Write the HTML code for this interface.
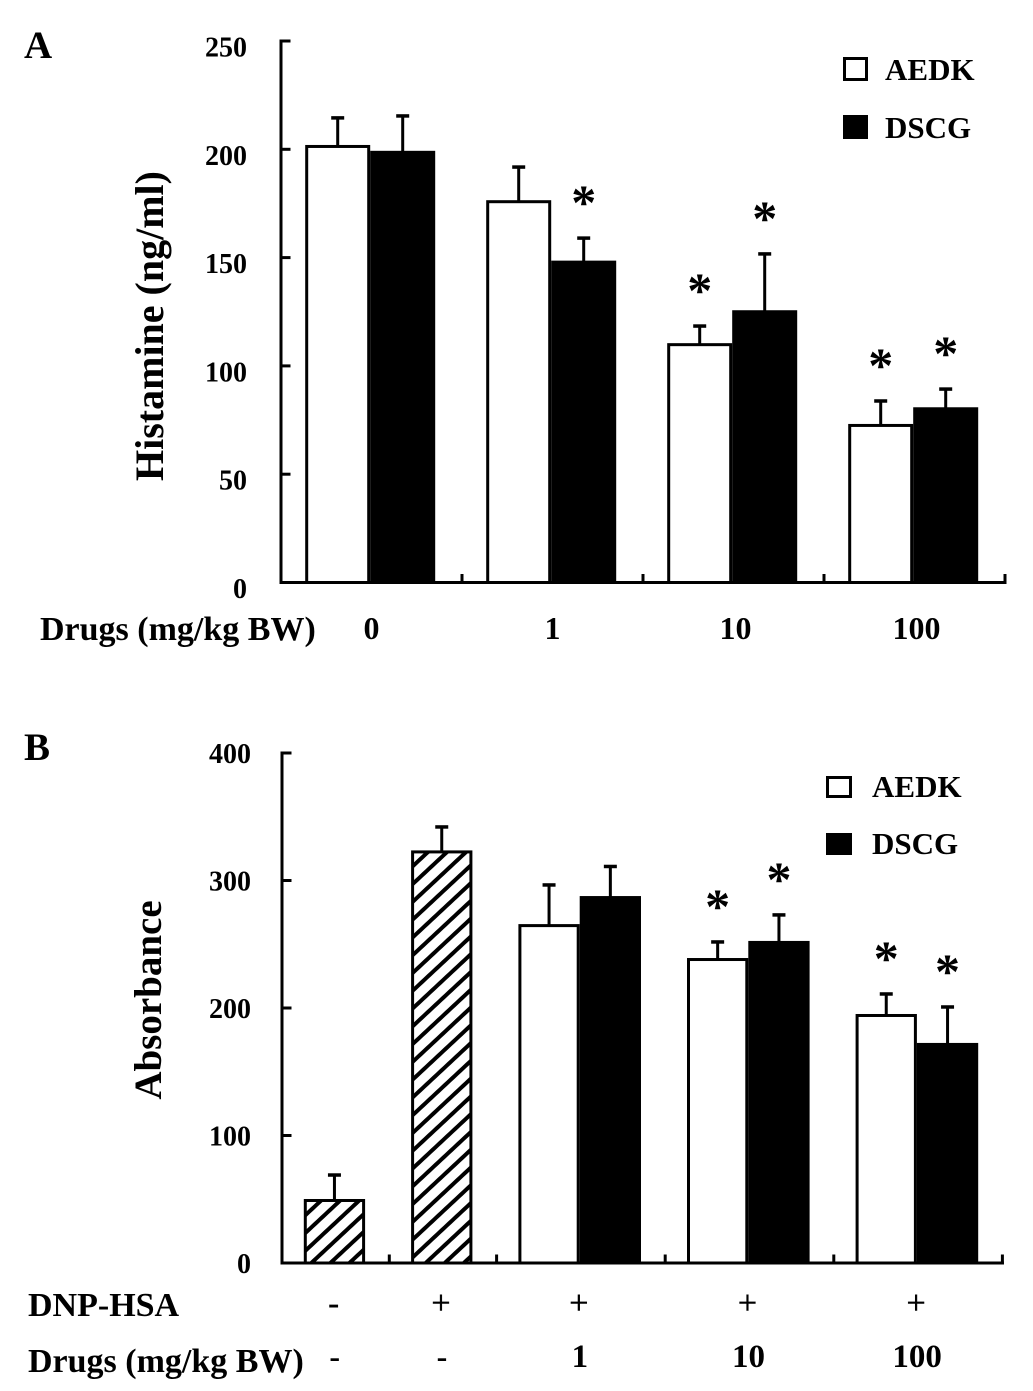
<!DOCTYPE html>
<html lang="en">
<head>
<meta charset="utf-8">
<title>Histamine and absorbance bar charts</title>
<style>
html,body{margin:0;padding:0;background:#fff;}
svg{display:block;}
text{font-family:"Liberation Serif",serif;font-weight:bold;fill:#000;}
</style>
</head>
<body>
<svg id="figure" xmlns="http://www.w3.org/2000/svg" width="1033" height="1391" viewBox="0 0 1033 1391">
  <defs>
    <pattern id="hatch" patternUnits="userSpaceOnUse" width="13" height="13" patternTransform="rotate(-43) translate(0 3)">
      <rect width="13" height="13" fill="#fff"/>
      <rect width="13" height="4" fill="#000"/>
    </pattern>
  </defs>
  <rect width="1033" height="1391" fill="#fff"/>
  <g id="panelA"></g>
  <g id="panelB"></g>
</svg>
<script>
// Panel A data
const aCategories = ['0', '1', '10', '100'];
const aAedk = [202, 176.5, 110.5, 73.2];
const aAedkErr = [12.5, 15.3, 7.9, 10.6];
const aAedkSig = [0, 0, 1, 1];
const aDscg = [199.3, 148.6, 125.7, 80.9];
const aDscgErr = [16.1, 10.4, 26, 8.4];
const aDscgSig = [0, 1, 1, 1];
const aTicks = [0, 50, 100, 150, 200, 250];

// Panel B data
const bDnp = ['-', '+', '+', '+', '+'];
const bDrugs = ['-', '-', '1', '10', '100'];
const bControl = [50.2, 323.6];
const bControlErr = [18.8, 18.4];
const bAedk = [265.8, 239.2, 195.3];
const bAedkErr = [30.7, 12.6, 15.7];
const bAedkSig = [0, 1, 1];
const bDscg = [287.8, 252.6, 172.6];
const bDscgErr = [23.2, 20.4, 28.2];
const bDscgSig = [0, 1, 1];
const bTicks = [0, 100, 200, 300, 400];

const NS = 'http://www.w3.org/2000/svg';
function make(parent, tag, props, content) {
  const el = document.createElementNS(NS, tag);
  for (const k in props) el.setAttribute(k, props[k]);
  if (content !== undefined) el.textContent = content;
  parent.appendChild(el);
  return el;
}

function drawBar(g, x, w, yTop, yBase, fill, name) {
  const el = make(g, 'rect', {x: x + 1.5, y: yTop + 1.5, width: w - 3, height: yBase - yTop - 1.5, fill: fill, stroke: '#000', 'stroke-width': 3});
  
  
}

function drawError(g, cx, yTop, yBar, name) {
  const stem = make(g, 'line', {x1: cx, x2: cx, y1: yTop, y2: yBar, stroke: '#000', 'stroke-width': 3});
  
  
  const cap = make(g, 'line', {x1: cx - 6.5, x2: cx + 6.5, y1: yTop, y2: yTop, stroke: '#000', 'stroke-width': 3.5});
  
  
}

function drawStar(g, cx, yErrTop, name) {
  const el = make(g, 'text', {x: cx, y: yErrTop - 19, 'text-anchor': 'middle', 'font-size': 50}, '*');
  
  
}

function drawLabel(g, x, y, size, anchor, str, name) {
  const el = make(g, 'text', {x: x, y: y, 'font-size': size, 'text-anchor': anchor}, str);
  
  
  return el;
}

function drawLine(g, x1, y1, x2, y2, name) {
  const el = make(g, 'line', {x1: x1, y1: y1, x2: x2, y2: y2, stroke: '#000', 'stroke-width': 3, 'stroke-linecap': 'square'});
  
  
}

function drawLegend(g, x, y1, y2, w, h, textX) {
  const box1 = make(g, 'rect', {x: x + 1.5, y: y1 + 1.5, width: w - 3, height: h - 3, fill: '#fff', stroke: '#000', 'stroke-width': 3});
  
  
  drawLabel(g, textX, y1 + h - 1, 31, 'start', 'AEDK', 'legend-label-aedk');
  const box2 = make(g, 'rect', {x: x, y: y2, width: w, height: h, fill: '#000'});
  
  
  drawLabel(g, textX, y2 + h - 1, 31, 'start', 'DSCG', 'legend-label-dscg');
}

// ---------- Panel A ----------
(function () {
  const g = document.getElementById('panelA');
  const x0 = 281, xEnd = 1005, y0 = 582.5, yMax = 41, maxV = 250;
  const y = v => y0 - v * (y0 - yMax) / maxV;
  const band = (xEnd - x0) / aCategories.length;
  const center = i => x0 + band * (i + 0.5);
  const barW = 65;

  drawLabel(g, 24, 58, 39, 'start', 'A', 'panel-label-a');

  aCategories.forEach((c, i) => {
    const cx = center(i) - 1.3;
    const yA = y(aAedk[i]), yD = y(aDscg[i]);
    const topA = y(aAedk[i] + aAedkErr[i]), topD = y(aDscg[i] + aDscgErr[i]);
    drawError(g, cx - barW / 2, topA, yA + 2, 'error-bar-aedk-' + c);
    drawError(g, cx + barW / 2, topD, yD + 2, 'error-bar-dscg-' + c);
    drawBar(g, cx - barW, barW, yA, y0, '#fff', 'bar-aedk-' + c);
    drawBar(g, cx, barW, yD, y0, '#000', 'bar-dscg-' + c);
    if (aAedkSig[i]) drawStar(g, cx - barW / 2, topA, 'significance-aedk-' + c);
    if (aDscgSig[i]) drawStar(g, cx + barW / 2, topD, 'significance-dscg-' + c);
    const lx = center(i) + (c.length > 1 ? 2 : 0);
    drawLabel(g, lx, 639, 32, 'middle', c, 'x-label-' + c);
  });

  drawLine(g, x0, yMax, x0, y0, 'y-axis');
  drawLine(g, x0, y0, xEnd, y0, 'x-axis');
  aTicks.forEach(t => {
    if (t > 0) drawLine(g, x0, y(t), x0 + 8, y(t), 'y-tick-' + t);
    drawLabel(g, 247, y(t) + 15.5, 28, 'end', String(t), 'y-tick-label-' + t);
  });
  aCategories.forEach((c, i) => {
    const tx = x0 + band * (i + 1);
    drawLine(g, tx, y0 - 7, tx, y0, 'x-tick-' + (i + 1));
  });

  const title = drawLabel(g, 0, 0, 40, 'middle', 'Histamine (ng/ml)', 'y-axis-title');
  title.setAttribute('transform', 'translate(163 326) rotate(-90)');
  drawLabel(g, 40, 640, 34, 'start', 'Drugs (mg/kg BW)', 'x-axis-title');
  drawLegend(g, 843, 57, 115, 25, 24, 885);
})();

// ---------- Panel B ----------
(function () {
  const g = document.getElementById('panelB');
  const x0 = 282, y0 = 1263, yMax = 753, maxV = 400;
  const y = v => y0 - v * (y0 - yMax) / maxV;
  const barW = 61.3, gap = 46;
  const nGroups = bDnp.length;
  const nControl = bControl.length;
  const bandOf = i => (i < nControl ? barW : barW * 2) + gap;
  const left = i => { let s = x0; for (let k = 0; k < i; k++) s += bandOf(k); return s; };
  const center = i => left(i) + bandOf(i) / 2;
  const xEnd = left(nGroups);

  drawLabel(g, 24, 760, 39, 'start', 'B', 'panel-label-b');

  bControl.forEach((v, i) => {
    const cx = center(i) - 1.2;
    drawError(g, cx, y(v + bControlErr[i]), y(v) + 2, 'error-bar-control-' + i);
    drawBar(g, cx - barW / 2, barW, y(v), y0, 'url(#hatch)', 'bar-control-' + i);
  });
  bAedk.forEach((v, j) => {
    const i = j + nControl;
    const cx = center(i) - 1.2;
    const d = bDscg[j];
    const topA = y(v + bAedkErr[j]), topD = y(d + bDscgErr[j]);
    drawError(g, cx - barW / 2, topA, y(v) + 2, 'error-bar-aedk-' + bDrugs[i]);
    drawError(g, cx + barW / 2, topD, y(d) + 2, 'error-bar-dscg-' + bDrugs[i]);
    drawBar(g, cx - barW, barW, y(v), y0, '#fff', 'bar-aedk-' + bDrugs[i]);
    drawBar(g, cx, barW, y(d), y0, '#000', 'bar-dscg-' + bDrugs[i]);
    if (bAedkSig[j]) drawStar(g, cx - barW / 2, topA, 'significance-aedk-' + bDrugs[i]);
    if (bDscgSig[j]) drawStar(g, cx + barW / 2, topD, 'significance-dscg-' + bDrugs[i]);
  });

  drawLine(g, x0, yMax, x0, y0, 'y-axis');
  drawLine(g, x0, y0, xEnd, y0, 'x-axis');
  bTicks.forEach(t => {
    if (t > 0) drawLine(g, x0, y(t), x0 + 8, y(t), 'y-tick-' + t);
    drawLabel(g, 251, y(t) + 10, 28, 'end', String(t), 'y-tick-label-' + t);
  });
  for (let i = 0; i < nGroups; i++) {
    const tx = left(i + 1);
    drawLine(g, tx, y0 - 7, tx, y0, 'x-tick-' + (i + 1));
  }

  const title = drawLabel(g, 0, 0, 39, 'middle', 'Absorbance', 'y-axis-title');
  title.setAttribute('transform', 'translate(161 1000) rotate(-90)');
  drawLabel(g, 28, 1316, 34, 'start', 'DNP-HSA', 'row-title-dnp-hsa');
  drawLabel(g, 28, 1372, 34, 'start', 'Drugs (mg/kg BW)', 'row-title-drugs');

  bDnp.forEach((s, i) => {
    const el = drawLabel(g, center(i) - 2, 1314, 34, 'middle', s, 'dnp-hsa-value-' + i);
    if (s === '+') el.setAttribute('style', 'font-weight:normal;stroke:#000;stroke-width:0.5');
  });
  bDrugs.forEach((s, i) => {
    drawLabel(g, center(i) - 1, 1367, s === '-' ? 32 : 33, 'middle', s, 'drug-dose-value-' + i);
  });

  drawLegend(g, 826, 776, 833, 26, 22, 872);
})();
</script>
</body>
</html>
